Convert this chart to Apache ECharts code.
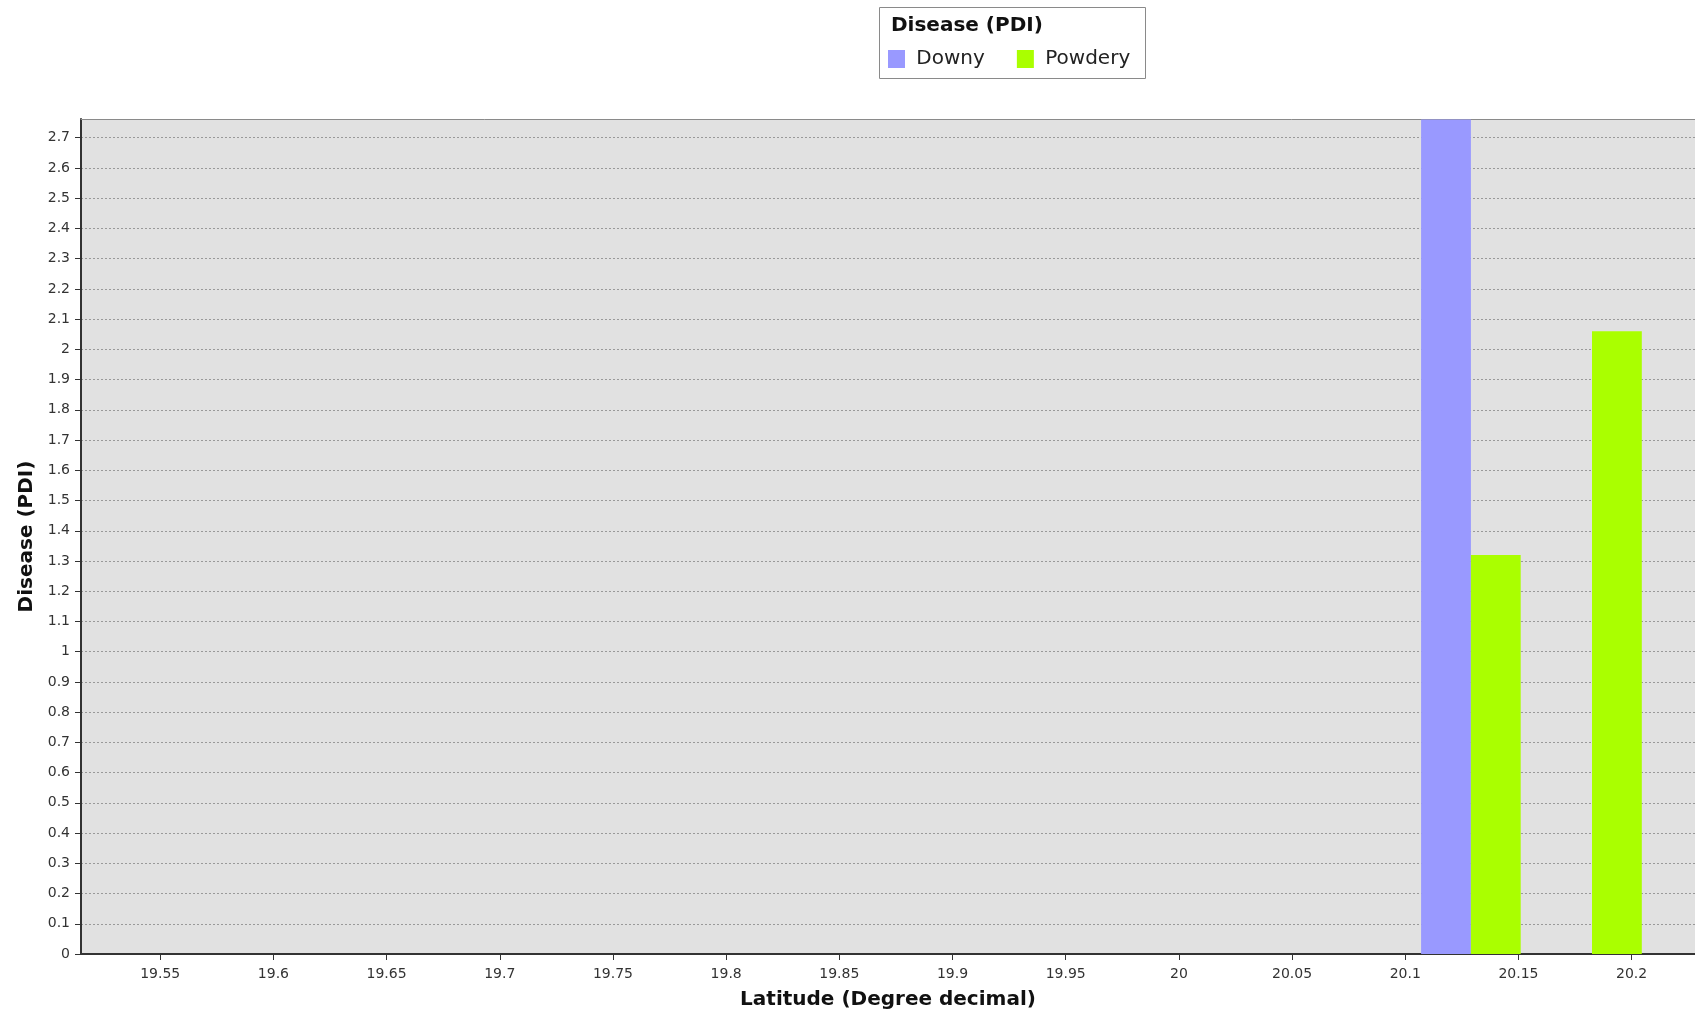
<!DOCTYPE html>
<html>
<head>
<meta charset="utf-8">
<script src="https://cdn.jsdelivr.net/npm/echarts@6/dist/echarts.min.js"></script>
<style>
html,body{margin:0;padding:0;background:#fff;overflow:hidden;}
#chart{width:1695px;height:1016px;}
</style>
</head>
<body>
<div id="chart"></div>
<script>
// ---- data ----
const latitudes = [20.129, 20.1825];          // cluster positions (degree decimal)
const downyValues = [2.76, 0];
const powderyValues = [1.32, 2.06];
const seriesNames = ['Downy', 'Powdery'];
const xTickValues = [19.55, 19.6, 19.65, 19.7, 19.75, 19.8, 19.85, 19.9, 19.95, 20, 20.05, 20.1, 20.15, 20.2];
const yTickValues = [0, 0.1, 0.2, 0.3, 0.4, 0.5, 0.6, 0.7, 0.8, 0.9, 1, 1.1, 1.2, 1.3, 1.4, 1.5, 1.6, 1.7, 1.8, 1.9, 2, 2.1, 2.2, 2.3, 2.4, 2.5, 2.6, 2.7];

const barWidthDeg = 0.022;
const colors = ['#9999FF', '#AAFF00'];
const FONT = '"DejaVu Sans", Verdana, sans-serif';
const X_MIN = 19.515, X_MAX = 20.228;

function makeRender(offsetIndex) {
  return function (params, api) {
    const x = api.value(0), v = api.value(1);
    const x0 = x + (offsetIndex - 1) * barWidthDeg;
    const x1 = x0 + barWidthDeg;
    const pTop = api.coord([x0, v]);
    const pBot = api.coord([x1, 0]);
    return {
      type: 'rect',
      shape: { x: pTop[0], y: pTop[1], width: pBot[0] - pTop[0], height: pBot[1] - pTop[1] },
      style: { fill: api.visual('color') }
    };
  };
}

const chart = echarts.init(document.getElementById('chart'), null, { renderer: 'canvas' });
chart.setOption({
  animation: false,
  backgroundColor: '#ffffff',
  textStyle: { fontFamily: FONT },
  title: {
    text: 'Disease (PDI)',
    left: 891, top: 16, padding: 0,
    textStyle: { fontFamily: FONT, fontSize: 20, fontWeight: 'bold', color: '#111' }
  },
  graphic: [{
    type: 'rect', left: 879, top: 7, z: -1,
    shape: { width: 266, height: 71 },
    style: { fill: '#ffffff', stroke: '#8a8a8a', lineWidth: 1 }
  }],
  legend: {
    data: seriesNames,
    left: 888, top: 49, padding: 0,
    itemWidth: 17, itemHeight: 18, itemGap: 32,
    icon: 'rect',
    formatter: ' {name}',
    textStyle: { fontFamily: FONT, fontSize: 20, color: '#222' }
  },
  grid: {
    left: 81, top: 119, right: 0, bottom: 62,
    show: true, backgroundColor: '#E1E1E1', borderWidth: 0
  },
  xAxis: [{
    type: 'value',
    min: X_MIN, max: X_MAX,
    name: 'Latitude (Degree decimal)',
    nameLocation: 'middle', nameGap: 36,
    nameTextStyle: { fontFamily: FONT, fontSize: 20, fontWeight: 'bold', color: '#111' },
    axisLine: { show: true, onZero: false, lineStyle: { color: '#333', width: 2 } },
    axisTick: { show: true, length: 6, customValues: xTickValues, lineStyle: { color: '#333' } },
    axisLabel: { customValues: xTickValues, margin: 13, fontFamily: FONT, fontSize: 14, color: '#333',
      formatter: v => String(Number(v.toFixed(2))) },
    splitLine: { show: false }
  }, {
    type: 'value', position: 'top',
    min: X_MIN, max: X_MAX,
    axisLine: { show: true, onZero: false, lineStyle: { color: '#8a8a8a', width: 1 } },
    axisTick: { show: false }, axisLabel: { show: false }, splitLine: { show: false }
  }],
  yAxis: {
    type: 'value',
    min: 0, max: 2.762,
    name: 'Disease (PDI)',
    nameLocation: 'middle', nameGap: 41, nameRotate: 90,
    nameTextStyle: { fontFamily: FONT, fontSize: 20, fontWeight: 'bold', color: '#111' },
    interval: 0.1,
    axisLine: { show: true, lineStyle: { color: '#333', width: 2 } },
    axisTick: { show: true, length: 6, customValues: yTickValues, lineStyle: { color: '#333' } },
    axisLabel: { customValues: yTickValues, margin: 11, fontFamily: FONT, fontSize: 14, color: '#333',
      formatter: v => String(Number(v.toFixed(1))) },
    splitLine: { show: true, lineStyle: { color: '#999', width: 1, type: [2, 2] } }
  },
  series: [
    {
      name: seriesNames[0], type: 'custom',
      itemStyle: { color: colors[0] },
      renderItem: makeRender(0),
      encode: { x: 0, y: 1 },
      data: latitudes.map((x, i) => [x, downyValues[i]])
    },
    {
      name: seriesNames[1], type: 'custom',
      itemStyle: { color: colors[1] },
      renderItem: makeRender(1),
      encode: { x: 0, y: 1 },
      data: latitudes.map((x, i) => [x, powderyValues[i]])
    }
  ]
});
</script>
</body>
</html>
